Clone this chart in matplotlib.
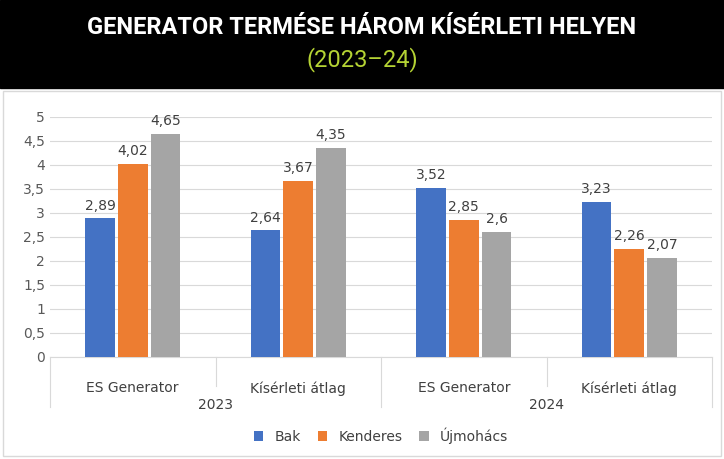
import matplotlib.pyplot as plt
import numpy as np
from matplotlib.patches import Rectangle

groups = ["ES Generator", "Kísérleti átlag", "ES Generator", "Kísérleti átlag"]
years = ["2023", "2024"]
series = ["Bak", "Kenderes", "Újmohács"]
bak = [2.89, 2.64, 3.52, 3.23]
kenderes = [4.02, 3.67, 2.85, 2.26]
ujmohacs = [4.65, 4.35, 2.6, 2.07]
colors = ["#4472c4", "#ed7d31", "#a5a5a5"]

fig = plt.figure(figsize=(7.24, 4.59), dpi=100)
fig.patches.append(Rectangle((0, 1 - 88/459), 1, 88/459, transform=fig.transFigure,
                             color="black", zorder=0))
fig.patches.append(Rectangle((3/724, 3/459), 718/724, 1 - 91/459 - 3/459, transform=fig.transFigure,
                             fill=False, edgecolor="#d9d9d9", lw=1))
fig.text(0.5, 1 - 27/459, "GENERATOR TERMÉSE HÁROM KÍSÉRLETI HELYEN", ha="center", va="center",
         color="white", fontsize=17, fontweight="bold", family="Roboto")
fig.text(0.5, 1 - 60/459, "(2023–24)", ha="center", va="center",
         color="#b5d334", fontsize=17, family="Roboto")

ax = fig.add_axes([50/724, 1 - 357/459, 662/724, 240/459])
x = np.arange(len(groups))
w = 0.18
for i, (vals, c) in enumerate(zip([bak, kenderes, ujmohacs], colors)):
    bars = ax.bar(x + (i - 1) * 1.1 * w, vals, w, color=c, label=series[i], zorder=3)
    for b, v in zip(bars, vals):
        ax.text(b.get_x() + b.get_width()/2, v + 0.12, str(v).replace(".", ","),
                ha="center", va="bottom", fontsize=10, color="#404040")

ax.set_xlim(-0.5, 3.5)
ax.set_ylim(0, 5)
ax.set_yticks(np.arange(0, 5.01, 0.5))
ax.set_yticklabels([f"{t:g}".replace(".", ",") for t in np.arange(0, 5.01, 0.5)])
ax.grid(axis="y", color="#d9d9d9", lw=0.8, zorder=0)
ax.tick_params(axis="y", length=0, labelsize=10, colors="#595959")
ax.set_xticks([])
for s in ["top", "right", "left"]:
    ax.spines[s].set_visible(False)
ax.spines["bottom"].set_color("#d9d9d9")

for i, g in enumerate(groups):
    ax.text(i, -0.1, g, transform=ax.get_xaxis_transform(), ha="center", va="top",
            fontsize=10, color="#404040")
for j, yr in enumerate(years):
    ax.text(0.5 + 2*j, -0.17, yr, transform=ax.get_xaxis_transform(), ha="center", va="top",
            fontsize=10, color="#404040")
for xv, depth in [(-0.5, -0.21), (0.5, -0.12), (1.5, -0.21), (2.5, -0.12), (3.5, -0.21)]:
    ax.plot([xv, xv], [0, depth], transform=ax.get_xaxis_transform(), color="#d9d9d9",
            lw=0.8, clip_on=False)

ax.legend(loc="upper center", bbox_to_anchor=(0.5, -0.24), ncol=3, frameon=False,
          fontsize=10, handlelength=0.7, handleheight=0.7, columnspacing=1.2,
          labelcolor="#404040")

fig.savefig("out.png", dpi=100)
